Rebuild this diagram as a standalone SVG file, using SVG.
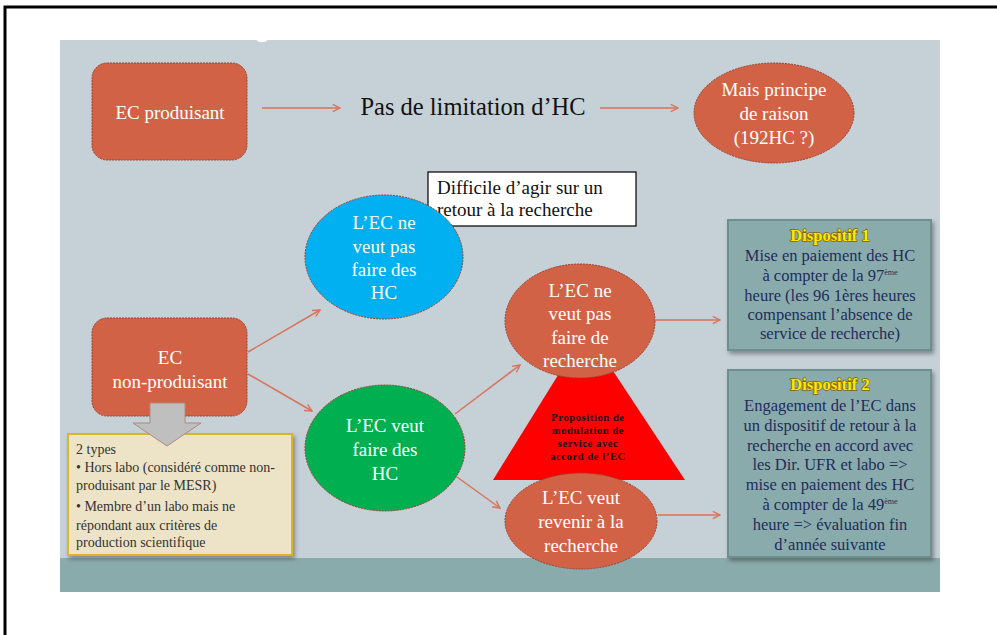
<svg xmlns="http://www.w3.org/2000/svg" width="997" height="635" viewBox="0 0 997 635">
<defs>
<style>
.node{fill:#d26246;stroke:#9a4030;stroke-width:1;stroke-dasharray:2 1}
.wt{font-family:"Liberation Serif","DejaVu Serif",serif;fill:#ffffff;font-size:19px;text-anchor:middle}
.bk{font-family:"Liberation Serif","DejaVu Serif",serif;fill:#111111}
.disp{fill:#8aabab;stroke:#6d8f8f;stroke-width:2}
.dt{font-family:"Liberation Serif","DejaVu Serif",serif;fill:#1f2d5c;font-size:16.5px;text-anchor:middle}
.dtitle{font-family:"Liberation Serif","DejaVu Serif",serif;fill:#ffe800;stroke:#7a6400;stroke-width:1.4;paint-order:stroke;font-weight:bold;font-size:16.5px;text-anchor:middle}
.conn{stroke:#d9735a;stroke-width:1.5;fill:none;marker-end:url(#ah)}
.yt{font-family:"Liberation Serif","DejaVu Serif",serif;fill:#333333;font-size:14px}
.tt{font-family:"Liberation Serif","DejaVu Serif",serif;fill:#111111;font-size:10.5px;font-weight:bold;letter-spacing:0.6px;text-anchor:middle}
</style>
<marker id="ah" viewBox="0 0 10 10" refX="9" refY="5" markerWidth="9" markerHeight="9" markerUnits="userSpaceOnUse" orient="auto">
<path d="M1,1 L9,5 L1,9" fill="none" stroke="#d9735a" stroke-width="1.5"/>
</marker>
<filter id="sh" x="-10%" y="-10%" width="125%" height="125%">
<feDropShadow dx="2" dy="3" stdDeviation="2" flood-color="#000" flood-opacity="0.35"/>
</filter>
</defs>
<rect x="0" y="0" width="997" height="635" fill="#ffffff"/>
<path d="M5,635 V7 H997" fill="none" stroke="#000" stroke-width="3"/>
<g id="slide">
<rect x="60" y="40" width="880" height="552" fill="#c5d0d7"/>
<rect x="60" y="558" width="880" height="34" fill="#8aabab"/>
<ellipse cx="262" cy="40" rx="5" ry="2" fill="#ffffff"/>
</g>
<g id="triangle">
<polygon points="586,330 685,480 493,480" fill="#ff0000"/>
<text class="tt" x="588" y="421">Proposition de</text>
<text class="tt" x="588" y="434">modulation de</text>
<text class="tt" x="588" y="447">service avec</text>
<text class="tt" x="588" y="460">accord de l’EC</text>
</g>
<g id="connectors">
<line class="conn" x1="262" y1="108" x2="340" y2="108"/>
<line class="conn" x1="600" y1="108" x2="678" y2="108"/>
<line class="conn" x1="248" y1="352" x2="320" y2="310"/>
<line class="conn" x1="248" y1="374" x2="312" y2="411"/>
<line class="conn" x1="455" y1="414" x2="520" y2="365"/>
<line class="conn" x1="457" y1="477" x2="500" y2="508"/>
<line class="conn" x1="656" y1="320" x2="720" y2="320"/>
<line class="conn" x1="658" y1="515" x2="720" y2="515"/>
</g>
<g id="ec-produisant">
<rect class="node" x="92" y="63" width="155" height="97" rx="15"/>
<text class="wt" x="170" y="119">EC produisant</text>
</g>
<g id="pas-limitation">
<text class="bk" x="473" y="115" font-size="24.5" text-anchor="middle">Pas de limitation d’HC</text>
</g>
<g id="mais-principe">
<ellipse class="node" cx="774" cy="113" rx="80" ry="50"/>
<text class="wt" x="774" y="96">Mais principe</text>
<text class="wt" x="774" y="120">de raison</text>
<text class="wt" x="774" y="144">(192HC ?)</text>
</g>
<g id="difficile">
<rect x="428" y="172" width="208" height="54" fill="#ffffff" stroke="#000" stroke-width="1.2"/>
<text class="bk" x="437" y="194" font-size="19">Difficile d’agir sur un</text>
<text class="bk" x="437" y="216" font-size="19">retour à la recherche</text>
</g>
<g id="ne-veut-pas-hc">
<ellipse cx="384" cy="257" rx="79" ry="62" fill="#00b0f0" stroke="#9a4030" stroke-width="1" stroke-dasharray="2 1"/>
<text class="wt" x="384" y="229">L’EC ne</text>
<text class="wt" x="384" y="253">veut pas</text>
<text class="wt" x="384" y="276">faire des</text>
<text class="wt" x="384" y="299">HC</text>
</g>
<g id="ec-non-produisant">
<rect class="node" x="92" y="318" width="155" height="98" rx="15"/>
<text class="wt" x="170" y="364">EC</text>
<text class="wt" x="170" y="388">non-produisant</text>
</g>
<g id="types">
<rect x="68" y="434" width="224" height="121" fill="#ede3c6" stroke="#d9b52a" stroke-width="2" filter="url(#sh)"/>
<text class="yt" x="76" y="454">2 types</text>
<text class="yt" x="76" y="472">• Hors labo (considéré comme non-</text>
<text class="yt" x="76" y="490">produisant par le MESR)</text>
<text class="yt" x="76" y="511">• Membre d’un labo mais ne</text>
<text class="yt" x="76" y="530">répondant aux critères de</text>
<text class="yt" x="76" y="547">production scientifique</text>
</g>
<g id="down-arrow">
<polygon points="150,403 185,403 185,423 201,423 167,446 133,423 150,423" fill="#bfbfbf" stroke="#b08a80" stroke-width="1"/>
</g>
<g id="veut-hc">
<ellipse cx="385" cy="448" rx="80" ry="63" fill="#00b050" stroke="#9a4030" stroke-width="1" stroke-dasharray="2 1"/>
<text class="wt" x="385" y="432">L’EC veut</text>
<text class="wt" x="385" y="456">faire des</text>
<text class="wt" x="385" y="480">HC</text>
</g>
<g id="ne-veut-pas-recherche">
<ellipse class="node" cx="580" cy="321" rx="75" ry="57"/>
<text class="wt" x="580" y="297">L’EC ne</text>
<text class="wt" x="580" y="320">veut pas</text>
<text class="wt" x="580" y="344">faire de</text>
<text class="wt" x="580" y="367">recherche</text>
</g>
<g id="veut-revenir">
<ellipse class="node" cx="581" cy="521" rx="76" ry="48"/>
<text class="wt" x="581" y="504">L’EC veut</text>
<text class="wt" x="581" y="528">revenir à la</text>
<text class="wt" x="581" y="552">recherche</text>
</g>
<g id="dispositif-1">
<rect class="disp" x="728" y="220" width="203" height="130" filter="url(#sh)"/>
<text class="dtitle" x="830" y="241">Dispositif 1</text>
<text class="dt" x="830" y="261">Mise en paiement des HC</text>
<text class="dt" x="830" y="281">à compter de la 97<tspan font-size="8" dy="-6">ème</tspan></text>
<text class="dt" x="830" y="301">heure (les 96 1ères heures</text>
<text class="dt" x="830" y="320">compensant l’absence de</text>
<text class="dt" x="830" y="339">service de recherche)</text>
</g>
<g id="dispositif-2">
<rect class="disp" x="728" y="370" width="203" height="187" filter="url(#sh)"/>
<text class="dtitle" x="830" y="390">Dispositif 2</text>
<text class="dt" x="830" y="411">Engagement de l’EC dans</text>
<text class="dt" x="830" y="431">un dispositif de retour à la</text>
<text class="dt" x="830" y="451">recherche en accord avec</text>
<text class="dt" x="830" y="470">les Dir. UFR et labo =&gt;</text>
<text class="dt" x="830" y="490">mise en paiement des HC</text>
<text class="dt" x="830" y="510">à compter de  la 49<tspan font-size="8" dy="-6">ème</tspan></text>
<text class="dt" x="830" y="530">heure =&gt; évaluation fin</text>
<text class="dt" x="830" y="550">d’année suivante</text>
</g>
</svg>
